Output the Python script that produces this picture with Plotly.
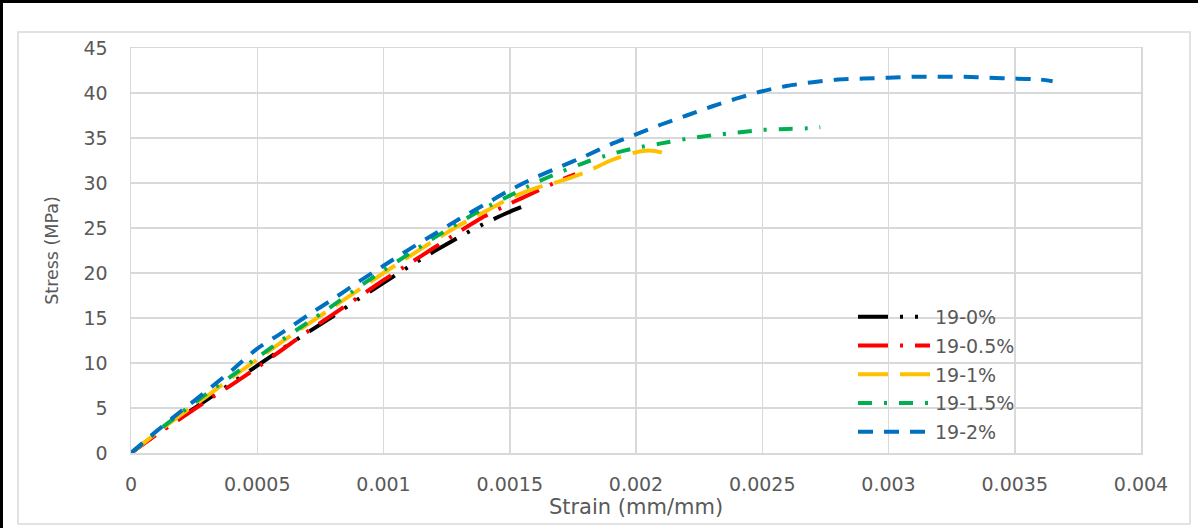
import plotly.graph_objects as go

# ---- data ----
names = ["19-0%", "19-0.5%", "19-1%", "19-1.5%", "19-2%"]

strain_0 = [0, 0.0001, 0.0002, 0.0003, 0.0004, 0.0005, 0.0006, 0.0007, 0.0008, 0.0009,
            0.001, 0.0011, 0.0012, 0.0013, 0.0014, 0.0015, 0.00158]
stress_0 = [0, 2.1, 4.0, 5.9, 7.8, 9.7, 11.6, 13.4, 15.2, 17.1,
            18.9, 20.7, 22.4, 24.0, 25.5, 26.8, 27.7]

strain_05 = [0, 0.0001, 0.0002, 0.0003, 0.0004, 0.0005, 0.0006, 0.0007, 0.0008, 0.0009,
             0.001, 0.0011, 0.0012, 0.0013, 0.0014, 0.0015, 0.0016, 0.0017, 0.00176]
stress_05 = [0, 2.0, 3.9, 5.8, 7.6, 9.5, 11.5, 13.5, 15.4, 17.3,
             19.2, 21.0, 22.8, 24.6, 26.3, 27.7, 29.0, 30.3, 31.0]

strain_1 = [0, 0.0001, 0.0002, 0.0003, 0.0004, 0.0005, 0.0006, 0.0007, 0.0008, 0.0009,
            0.001, 0.0011, 0.0012, 0.0013, 0.0014, 0.0015, 0.0016, 0.0017, 0.0018, 0.0019,
            0.002, 0.00205, 0.0021, 0.00213]
stress_1 = [0, 2.2, 4.3, 6.3, 8.4, 10.4, 12.4, 14.3, 16.2, 18.1,
            20.0, 21.8, 23.6, 25.3, 26.8, 28.3, 29.4, 30.2, 31.2, 32.5,
            33.4, 33.6, 33.4, 33.0]

strain_15 = [0, 0.0001, 0.0002, 0.0003, 0.0004, 0.0005, 0.0006, 0.0007, 0.0008, 0.0009,
             0.001, 0.0011, 0.0012, 0.0013, 0.0014, 0.0015, 0.0016, 0.0017, 0.0018, 0.0019,
             0.002, 0.0021, 0.0022, 0.0023, 0.0024, 0.0025, 0.0026, 0.0027, 0.00273]
stress_15 = [0, 2.3, 4.5, 6.6, 8.6, 10.6, 12.6, 14.5, 16.4, 18.4,
             20.3, 22.1, 23.9, 25.6, 27.2, 28.6, 30.0, 31.2, 32.3, 33.2,
             33.9, 34.4, 34.9, 35.3, 35.6, 35.9, 36.0, 36.1, 36.2]

strain_2 = [0, 0.0001, 0.0002, 0.0003, 0.0004, 0.0005, 0.0006, 0.0007, 0.0008, 0.0009,
            0.001, 0.0011, 0.0012, 0.0013, 0.0014, 0.0015, 0.0016, 0.0017, 0.0018, 0.0019,
            0.002, 0.0021, 0.0022, 0.0023, 0.0024, 0.0025, 0.0026, 0.0027, 0.0028, 0.0029,
            0.003, 0.0031, 0.0032, 0.0033, 0.0034, 0.0035, 0.0036, 0.00365]
stress_2 = [0, 2.4, 4.7, 6.9, 9.2, 11.6, 13.4, 15.3, 17.1, 19.0,
            20.8, 22.6, 24.3, 26.0, 27.6, 29.2, 30.6, 31.8, 33.0, 34.3,
            35.4, 36.5, 37.5, 38.5, 39.4, 40.2, 40.8, 41.2, 41.5, 41.6,
            41.7, 41.8, 41.8, 41.8, 41.7, 41.6, 41.5, 41.3]

x_ticks = [0, 0.0005, 0.001, 0.0015, 0.002, 0.0025, 0.003, 0.0035, 0.004]
x_ticklabels = ["0", "0.0005", "0.001", "0.0015", "0.002", "0.0025", "0.003", "0.0035", "0.004"]
y_ticks = [0, 5, 10, 15, 20, 25, 30, 35, 40, 45]

series = [
    (names[0], strain_0, stress_0, "#000000", "30px,12px,3px,12px,3px,12px"),
    (names[1], strain_05, stress_05, "#FF0000", "30px,12px,3px,12px"),
    (names[2], strain_1, stress_1, "#FFC000", "30px,12px"),
    (names[3], strain_15, stress_15, "#00B050", "14px,12px,3px,12px"),
    (names[4], strain_2, stress_2, "#0070C0", "15px,11px"),
]

FONT = "DejaVu Sans"
GRAY = "#595959"
GRID = "#D9D9D9"

fig = go.Figure()
for i, (nm, xs, ys, col, dash) in enumerate(series):
    fig.add_trace(go.Scatter(
        x=xs, y=ys, mode="lines", name=nm, legendgroup=f"g{i}",
        line=dict(color=col, width=4, dash=dash, shape="spline", smoothing=0.6),
    ))

# plot area in pixels: x 131..1141, y 48..453
L, R, T, B = 131, 1141, 48, 453
W, H = R - L, B - T

def px(xp):
    return (xp - L) / W

def py(yp):
    return (B - yp) / H

shapes = [
    # light gray chart frame
    dict(type="rect", xref="paper", yref="paper",
         x0=px(18), x1=px(1190), y0=py(524), y1=py(32),
         line=dict(color=GRID, width=1.5), fillcolor="rgba(0,0,0,0)", layer="below"),
    # black border on left and top edges
    dict(type="line", xref="paper", yref="paper",
         x0=px(1.5), x1=px(1.5), y0=py(528), y1=py(0),
         line=dict(color="#000000", width=3)),
    dict(type="line", xref="paper", yref="paper",
         x0=px(0), x1=px(1198), y0=py(1.5), y1=py(1.5),
         line=dict(color="#000000", width=3)),
]

fig.update_layout(
    width=1198, height=528,
    margin=dict(l=L, r=1198 - R, t=T, b=528 - B),
    paper_bgcolor="white", plot_bgcolor="white",
    font=dict(family=FONT, color=GRAY, size=19),
    showlegend=True,
    legend=dict(
        x=px(853), y=py(298), xanchor="left", yanchor="top",
        bgcolor="rgba(255,255,255,0)", font=dict(size=19, color=GRAY, family=FONT),
        itemwidth=72, traceorder="grouped", tracegroupgap=1,
    ),
    shapes=shapes,
    xaxis=dict(
        range=[0, 0.004], tickvals=x_ticks, ticktext=x_ticklabels,
        showgrid=True, gridcolor=GRID, gridwidth=1.5,
        zeroline=False, showline=True, linecolor=GRID, linewidth=1.5, mirror=True,
        ticks="", ticklabelstandoff=14, tickfont=dict(size=19),
        title=dict(text="Strain (mm/mm)", font=dict(size=21, color=GRAY, family=FONT), standoff=3),
        fixedrange=True,
    ),
    yaxis=dict(
        range=[0, 45], tickvals=y_ticks,
        showgrid=True, gridcolor=GRID, gridwidth=1.5,
        zeroline=False, showline=True, linecolor=GRID, linewidth=1.5, mirror=True,
        ticks="", ticklabelstandoff=18, tickfont=dict(size=19),
        title=dict(text="Stress (MPa)", font=dict(size=17.5, color=GRAY, family=FONT), standoff=20),
        fixedrange=True,
    ),
)

fig.write_html(
    "out.html",
    config={"displayModeBar": False, "staticPlot": True},
    post_script="document.body.style.margin='0';document.body.style.overflow='hidden';",
)
